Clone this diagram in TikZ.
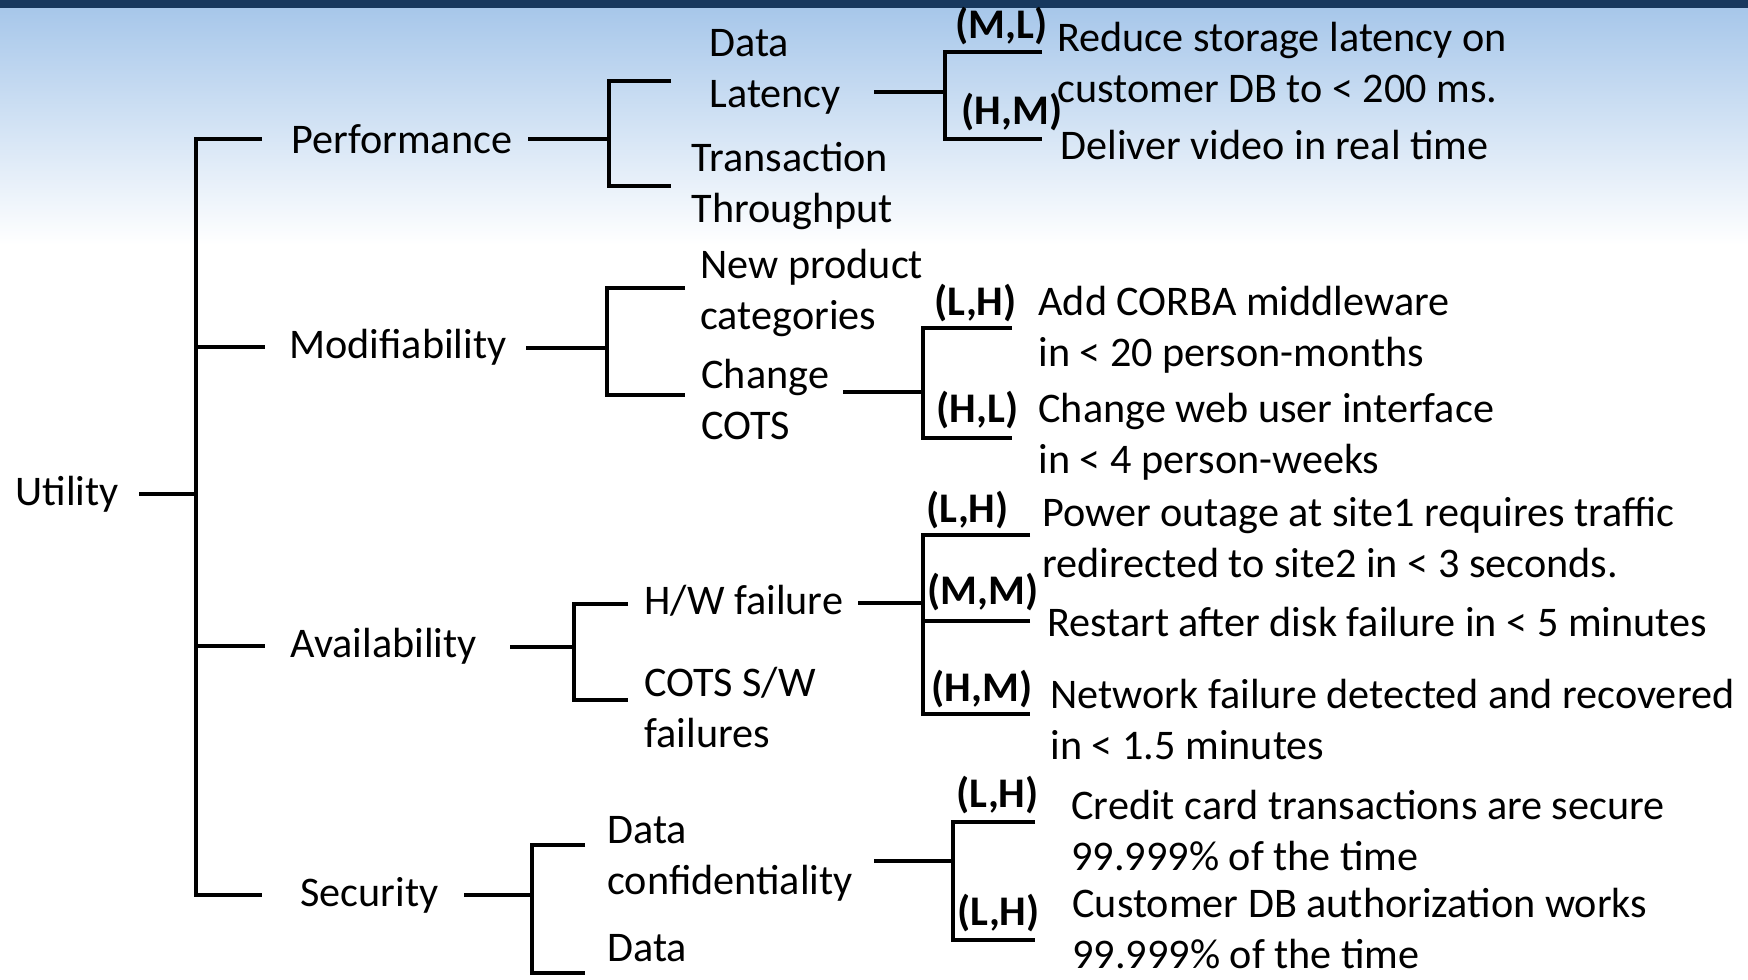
\documentclass[tikz,border=0pt]{standalone}
\usepackage{fontspec}
\setmainfont{Carlito}
\definecolor{topbar}{RGB}{23,56,94}
\definecolor{skyblue}{RGB}{167,199,234}

\begin{document}
\begin{tikzpicture}[x=0.01cm, y=-0.01cm,
            line width=1.4pt,
            every node/.style={anchor=west, inner sep=0pt, align=left,
                font=\fontsize{12}{14.5}\selectfont},
            rank/.style={font=\fontsize{12}{14.5}\selectfont\bfseries},
            ]
            \useasboundingbox (0,0) rectangle (1748,980);
            % background
            \shade[top color=skyblue, bottom color=white] (0,8) rectangle (1748,245);
            \fill[topbar] (0,0) rectangle (1748,8);

            % tree
            \node (util) at (13,494) {Utility};
            \node (perf) at (289,139) {Performance};
            \node (modi) at (287,347) {Modifiability};
            \node (avail) at (288,646) {Availability};
            \node (secu) at (298,895) {Security};

            \node (dlat) at (707,72) {Data\\Latency};
            \node (thru) at (689,186) {Transaction\\Throughput};
            \node (newp) at (698,293) {New product\\categories};
            \node (cots) at (699,400) {Change\\COTS};
            \node (hw) at (642,601) {H/W failure};
            \node (cotsw) at (642,708) {COTS S/W\\failures};
            \node (conf) at (605,859) {Data\\confidentiality};
            \node (integ) at (605,948) {Data};

            \node[rank] (r1) at (953,26) {(M,L)};
            \node[rank] (r2) at (959,112) {(H,M)};
            \node[rank] (r3) at (932,303) {(L,H)};
            \node[rank] (r4) at (934,410) {(H,L)};
            \node[rank] (r5) at (924,510) {(L,H)};
            \node[rank] (r6) at (925,592) {(M,M)};
            \node[rank] (r7) at (929,689) {(H,M)};
            \node[rank] (r8) at (954,795) {(L,H)};
            \node[rank] (r9) at (955,913) {(L,H)};

            \node (s1) at (1055,63) {Reduce storage latency on\\customer DB to < 200 ms.};
            \node (s2) at (1058,145) {Deliver video in real time};
            \node (s3) at (1036,330) {Add CORBA middleware\\in < 20 person-months};
            \node (s4) at (1036,437) {Change web user interface\\in < 4 person-weeks};
            \node (s5) at (1040,538) {Power outage at site1 requires traffic\\redirected to site2 in < 3 seconds.};
            \node (s6) at (1045,622) {Restart after disk failure in < 5 minutes};
            \node (s7) at (1048,720) {Network failure detected and recovered\\in < 1.5 minutes};
            \node (s8) at (1069,831) {Credit card transactions are secure\\99.999\% of the time};
            \node (s9) at (1070,929) {Customer DB authorization works\\99.999\% of the time};

            % brackets
            \coordinate (trunk) at (196,0);
            \draw (util.east -| trunk) -- ++(-57,0);
            \draw ([shift={(-27,0)}]perf.west) -| (secu.west -| trunk) -- ++(66,0);
            \draw (modi.west -| trunk) -- ++(69,0);
            \draw (avail.west -| trunk) -- ++(69,0);

            \coordinate (pf) at (609,139);
            \draw (pf) -- ++(-81,0);
            \draw ([shift={(-36,9)}]dlat.west) -| (pf) |- ([shift={(-18,0)}]thru.west);

            \coordinate (dlf) at (945,92);
            \draw (dlf) -- ++(-71,0);
            \draw ([shift={(-13,-11)}]s1.west) -| (dlf) |- ([shift={(-16,-6)}]s2.west);

            \coordinate (mf) at (607,348);
            \draw (mf) -- ++(-81,0);
            \draw ([shift={(-13,-5)}]newp.west) -| (mf) |- ([shift={(-14,-5)}]cots.west);

            \coordinate (cf) at (923,392);
            \draw (cf) -- ++(-80,0);
            \draw ([shift={(-24,-2)}]s3.west) -| (cf) |- ([shift={(-24,1)}]s4.west);

            \coordinate (af) at (574,647);
            \draw (af) -- ++(-64,0);
            \draw ([shift={(-14,3)}]hw.west) -| (af) |- ([shift={(-14,-8)}]cotsw.west);

            \coordinate (hf) at (923,603);
            \draw (hf) -- ++(-65,0);
            \draw ([shift={(-10,-3)}]s5.west) -| (hf) |- ([shift={(-18,-6)}]s7.west);
            \draw ([shift={(-15,-1)}]s6.west) -| (hf);

            \coordinate (sf) at (532,895);
            \draw (sf) -- ++(-68,0);
            \draw ([shift={(-20,-14)}]conf.west) -| (sf) |- ([shift={(-20,25)}]integ.west);

            \coordinate (ff) at (953,861);
            \draw (ff) -- ++(-79,0);
            \draw ([shift={(-34,-9)}]s8.west) -| (ff) |- ([shift={(-35,11)}]s9.west);
        \end{tikzpicture}
\end{document}
